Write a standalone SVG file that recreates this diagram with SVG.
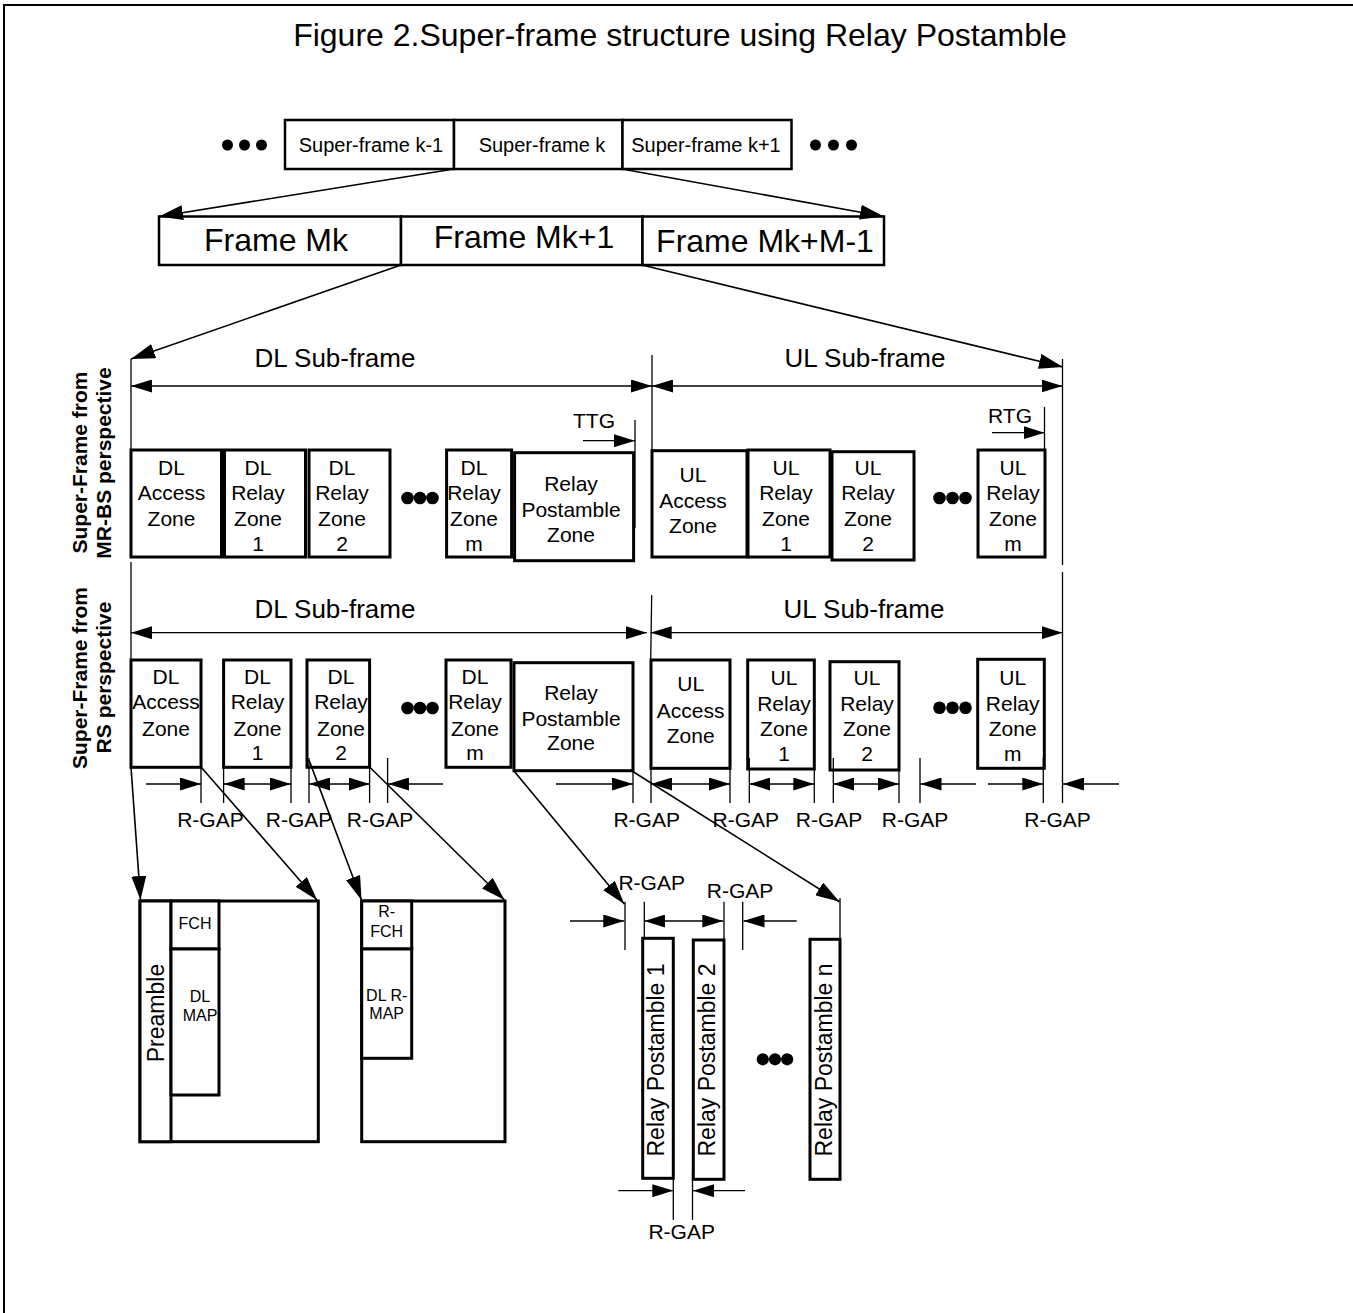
<svg xmlns="http://www.w3.org/2000/svg" width="1353" height="1313" viewBox="0 0 1353 1313">
<defs>
<style>
text{font-family:"Liberation Sans",Arial,sans-serif;fill:#000}
.t32{font-size:32px}
.t26{font-size:26px}
.t21{font-size:21px}
.t20{font-size:20px}
.t23{font-size:23px}
.t16{font-size:16px}
.b21{font-size:21px;font-weight:bold}
.m{text-anchor:middle}
.box{fill:#fff;stroke:#000;stroke-width:3}
.sbox{fill:#fff;stroke:#000;stroke-width:2.5}
.ln{fill:none;stroke:#000;stroke-width:1.3}
.cn{fill:none;stroke:#000;stroke-width:1.6}
.a1{marker-end:url(#ah)}
.a2{marker-start:url(#ah);marker-end:url(#ah)}
.aL{marker-end:url(#ahL)}
</style>
<marker id="ah" viewBox="0 0 21 13" refX="21" refY="6.5" markerWidth="21" markerHeight="13" markerUnits="userSpaceOnUse" orient="auto-start-reverse"><path d="M0,0 L21,6.5 L0,13 z" fill="#000"/></marker>
<marker id="ahL" viewBox="0 0 24 15" refX="24" refY="7.5" markerWidth="24" markerHeight="15" markerUnits="userSpaceOnUse" orient="auto"><path d="M0,0 L24,7.5 L0,15 z" fill="#000"/></marker>
</defs>
<rect x="0" y="0" width="1353" height="1313" fill="#fff"/>
<rect x="4" y="5" width="1400" height="1400" fill="none" stroke="#000" stroke-width="2"/>
<text class="t32 m" x="680" y="46">Figure 2.Super-frame structure using Relay Postamble</text>

<g id="superframes">
<circle cx="227.5" cy="145" r="5.5"/><circle cx="244.5" cy="145" r="5.5"/><circle cx="261.5" cy="145" r="5.5"/>
<g id="sf-k-1"><rect class="sbox" x="285" y="120" width="169" height="49"/><text class="t20 m" x="371" y="152">Super-frame k-1</text></g>
<g id="sf-k"><rect class="sbox" x="454" y="120" width="168.5" height="49"/><text class="t20 m" x="542" y="152">Super-frame k</text></g>
<g id="sf-k+1"><rect class="sbox" x="622.5" y="120" width="169" height="49"/><text class="t20 m" x="706" y="152">Super-frame k+1</text></g>
<circle cx="815.5" cy="145" r="5.5"/><circle cx="833.5" cy="145" r="5.5"/><circle cx="851.5" cy="145" r="5.5"/>
</g>

<g id="frames">
<g id="frame-mk"><rect class="sbox" x="159" y="216.5" width="242" height="48.5"/><text class="t32 m" x="276" y="251">Frame Mk</text></g>
<g id="frame-mk1"><rect class="sbox" x="401" y="216.5" width="241.5" height="48.5"/><text class="t32 m" x="524" y="248">Frame Mk+1</text></g>
<g id="frame-mkm"><rect class="sbox" x="642.5" y="216.5" width="241.5" height="48.5"/><text class="t32 m" x="765" y="252">Frame Mk+M-1</text></g>
</g>

<g id="side-labels">
<text class="b21 m" transform="translate(87,462.5) rotate(-90)">Super-Frame from</text>
<text class="b21 m" transform="translate(111,463) rotate(-90)">MR-BS perspective</text>
<text class="b21 m" transform="translate(87,678) rotate(-90)">Super-Frame from</text>
<text class="b21 m" transform="translate(111,677.5) rotate(-90)">RS perspective</text>
</g>

<g id="mrbs-row">
<text class="t26 m" x="335" y="367">DL Sub-frame</text>
<text class="t26 m" x="865" y="367">UL Sub-frame</text>
<text class="t21 m" x="594" y="428">TTG</text>
<text class="t21 m" x="1010" y="423">RTG</text>
<g id="m-dl-access"><rect class="box" x="131" y="450" width="90.5" height="107"/><text class="t21 m" x="171.5" y="475">DL</text><text class="t21 m" x="171.5" y="500">Access</text><text class="t21 m" x="171.5" y="526">Zone</text></g>
<g id="m-dl-relay1"><rect class="box" x="224.5" y="450" width="81" height="107"/><text class="t21 m" x="258" y="475">DL</text><text class="t21 m" x="258" y="500">Relay</text><text class="t21 m" x="258" y="526">Zone</text><text class="t21 m" x="258" y="551">1</text></g>
<g id="m-dl-relay2"><rect class="box" x="309" y="450" width="81" height="107"/><text class="t21 m" x="342" y="475">DL</text><text class="t21 m" x="342" y="500">Relay</text><text class="t21 m" x="342" y="526">Zone</text><text class="t21 m" x="342" y="551">2</text></g>
<circle cx="407.5" cy="498" r="6.3"/><circle cx="420" cy="498" r="6.3"/><circle cx="432.5" cy="498" r="6.3"/>
<g id="m-dl-relaym"><rect class="box" x="446.6" y="450" width="65" height="107"/><text class="t21 m" x="474" y="475">DL</text><text class="t21 m" x="474" y="500">Relay</text><text class="t21 m" x="474" y="526">Zone</text><text class="t21 m" x="474" y="551">m</text></g>
<g id="m-postamble"><rect class="box" x="514.6" y="452.7" width="119" height="108"/><text class="t21 m" x="571" y="491">Relay</text><text class="t21 m" x="571" y="517">Postamble</text><text class="t21 m" x="571" y="542">Zone</text></g>
<g id="m-ul-access"><rect class="box" x="652" y="450.7" width="95" height="106.3"/><text class="t21 m" x="693" y="482">UL</text><text class="t21 m" x="693" y="508">Access</text><text class="t21 m" x="693" y="533">Zone</text></g>
<g id="m-ul-relay1"><rect class="box" x="748" y="450" width="82" height="107"/><text class="t21 m" x="786" y="475">UL</text><text class="t21 m" x="786" y="500">Relay</text><text class="t21 m" x="786" y="526">Zone</text><text class="t21 m" x="786" y="551">1</text></g>
<g id="m-ul-relay2"><rect class="box" x="832" y="451.7" width="82" height="108.3"/><text class="t21 m" x="868" y="475">UL</text><text class="t21 m" x="868" y="500">Relay</text><text class="t21 m" x="868" y="526">Zone</text><text class="t21 m" x="868" y="551">2</text></g>
<circle cx="939.5" cy="498" r="6.3"/><circle cx="952.5" cy="498" r="6.3"/><circle cx="965.5" cy="498" r="6.3"/>
<g id="m-ul-relaym"><rect class="box" x="978" y="450" width="67" height="107"/><text class="t21 m" x="1013" y="475">UL</text><text class="t21 m" x="1013" y="500">Relay</text><text class="t21 m" x="1013" y="526">Zone</text><text class="t21 m" x="1013" y="551">m</text></g>
</g>

<g id="rs-row">
<text class="t26 m" x="335" y="618">DL Sub-frame</text>
<text class="t26 m" x="864" y="618">UL Sub-frame</text>
<g id="r-dl-access"><rect class="box" x="131" y="660" width="70" height="107.3"/><text class="t21 m" x="166" y="684">DL</text><text class="t21 m" x="166" y="709">Access</text><text class="t21 m" x="166" y="736">Zone</text></g>
<g id="r-dl-relay1"><rect class="box" x="223.6" y="660" width="67.4" height="107.3"/><text class="t21 m" x="257.5" y="684">DL</text><text class="t21 m" x="257.5" y="709">Relay</text><text class="t21 m" x="257.5" y="736">Zone</text><text class="t21 m" x="257.5" y="760">1</text></g>
<g id="r-dl-relay2"><rect class="box" x="307" y="660" width="62.6" height="107.3"/><text class="t21 m" x="341" y="684">DL</text><text class="t21 m" x="341" y="709">Relay</text><text class="t21 m" x="341" y="736">Zone</text><text class="t21 m" x="341" y="760">2</text></g>
<circle cx="407.5" cy="708" r="6.3"/><circle cx="420" cy="708" r="6.3"/><circle cx="432.5" cy="708" r="6.3"/>
<g id="r-dl-relaym"><rect class="box" x="446" y="660" width="65" height="107.3"/><text class="t21 m" x="475" y="684">DL</text><text class="t21 m" x="475" y="709">Relay</text><text class="t21 m" x="475" y="736">Zone</text><text class="t21 m" x="475" y="760">m</text></g>
<g id="r-postamble"><rect class="box" x="514" y="662.7" width="119" height="108"/><text class="t21 m" x="571" y="700">Relay</text><text class="t21 m" x="571" y="726">Postamble</text><text class="t21 m" x="571" y="750">Zone</text></g>
<g id="r-ul-access"><rect class="box" x="651" y="660" width="79" height="108.3"/><text class="t21 m" x="690.7" y="691">UL</text><text class="t21 m" x="690.7" y="717.7">Access</text><text class="t21 m" x="690.7" y="743.3">Zone</text></g>
<g id="r-ul-relay1"><rect class="box" x="747.7" y="660" width="66.6" height="109"/><text class="t21 m" x="784" y="685">UL</text><text class="t21 m" x="784" y="710.7">Relay</text><text class="t21 m" x="784" y="736">Zone</text><text class="t21 m" x="784" y="761">1</text></g>
<g id="r-ul-relay2"><rect class="box" x="830" y="661.7" width="69" height="108.3"/><text class="t21 m" x="867" y="685">UL</text><text class="t21 m" x="867" y="710.7">Relay</text><text class="t21 m" x="867" y="736">Zone</text><text class="t21 m" x="867" y="761">2</text></g>
<circle cx="939.5" cy="707.7" r="6.3"/><circle cx="952.5" cy="707.7" r="6.3"/><circle cx="965.5" cy="707.7" r="6.3"/>
<g id="r-ul-relaym"><rect class="box" x="977.7" y="659.3" width="66.6" height="109"/><text class="t21 m" x="1012.7" y="685">UL</text><text class="t21 m" x="1012.7" y="710.7">Relay</text><text class="t21 m" x="1012.7" y="736">Zone</text><text class="t21 m" x="1012.7" y="761">m</text></g>
<g id="rgap-labels" class="t21 m">
<text class="t21 m" x="210.4" y="827">R-GAP</text>
<text class="t21 m" x="299" y="827">R-GAP</text>
<text class="t21 m" x="380" y="827">R-GAP</text>
<text class="t21 m" x="646.7" y="827">R-GAP</text>
<text class="t21 m" x="745.8" y="827">R-GAP</text>
<text class="t21 m" x="829" y="827">R-GAP</text>
<text class="t21 m" x="915" y="827">R-GAP</text>
<text class="t21 m" x="1057.5" y="827">R-GAP</text>
</g>
</g>

<g id="preamble-frame">
<rect class="box" x="140" y="901" width="178.3" height="240.7"/>
<rect class="box" x="140" y="901" width="31" height="240.7"/>
<rect class="box" x="171" y="901" width="48" height="48"/>
<rect class="box" x="171" y="949" width="48" height="146"/>
<text class="t23 m" transform="translate(164,1013) rotate(-90)">Preamble</text>
<text class="t16 m" x="195" y="929">FCH</text>
<text class="t16 m" x="200" y="1001.7">DL</text>
<text class="t16 m" x="200" y="1020.7">MAP</text>
</g>

<g id="rfch-frame">
<rect class="box" x="361.7" y="901" width="143.3" height="240.7"/>
<rect class="box" x="361.7" y="901" width="50" height="48"/>
<rect class="box" x="361.7" y="949" width="50" height="109.3"/>
<text class="t16 m" x="386.7" y="917.3">R-</text>
<text class="t16 m" x="386.7" y="937.3">FCH</text>
<text class="t16 m" x="386.7" y="1000.7">DL R-</text>
<text class="t16 m" x="386.7" y="1019.3">MAP</text>
</g>

<g id="relay-postambles">
<g id="rp1"><rect class="box" x="642.7" y="938.3" width="30.6" height="240"/><text class="t23 m" transform="translate(664,1060) rotate(-90)">Relay Postamble 1</text></g>
<g id="rp2"><rect class="box" x="693.3" y="940" width="30.7" height="239.3"/><text class="t23 m" transform="translate(715,1060) rotate(-90)">Relay Postamble 2</text></g>
<circle cx="762.8" cy="1059.3" r="6.1"/><circle cx="775" cy="1059.3" r="6.1"/><circle cx="787.2" cy="1059.3" r="6.1"/>
<g id="rpn"><rect class="box" x="810" y="939.3" width="30" height="240"/><text class="t23 m" transform="translate(831.5,1060) rotate(-90)">Relay Postamble n</text></g>
<text class="t21 m" x="651.7" y="890">R-GAP</text>
<text class="t21 m" x="740" y="898.3">R-GAP</text>
<text class="t21 m" x="681.7" y="1239.3">R-GAP</text>
</g>

<g id="connectors">
<!-- expansion arrows -->
<line class="cn aL" x1="454" y1="169" x2="159" y2="216.5"/>
<line class="cn aL" x1="622" y1="169" x2="884" y2="216.5"/>
<line class="cn aL" x1="401" y1="265" x2="131" y2="359"/>
<line class="cn aL" x1="642" y1="265" x2="1063" y2="367"/>
<!-- MR-BS guides -->
<line class="ln" x1="131" y1="359" x2="131" y2="557"/>
<line class="ln" x1="652" y1="355" x2="652" y2="450"/>
<line class="ln" x1="1062.5" y1="359" x2="1062.5" y2="565"/>
<line class="ln a2" x1="131" y1="386" x2="652" y2="386"/>
<line class="ln a2" x1="652" y1="386" x2="1062.5" y2="386"/>
<line class="ln" x1="635" y1="420" x2="635" y2="528"/>
<line class="ln a1" x1="583" y1="440.7" x2="635" y2="440.7"/>
<line class="ln" x1="1044.5" y1="407" x2="1044.5" y2="450"/>
<line class="ln a1" x1="992" y1="432.7" x2="1044.5" y2="432.7"/>
<!-- RS guides -->
<line class="ln" x1="131" y1="562" x2="131" y2="660"/>
<line class="ln" x1="651.7" y1="595" x2="650.7" y2="660"/>
<line class="ln" x1="1062.5" y1="572" x2="1062.5" y2="803"/>
<line class="ln a2" x1="131" y1="632.7" x2="647" y2="632.7"/>
<line class="ln a2" x1="650.7" y1="632.7" x2="1062.5" y2="632.7"/>
<!-- R-GAP ticks -->
<path class="ln" d="M201,767V803 M223.6,767V803 M291,767V803 M309,758V803 M369.6,767V803 M387.6,758V803 M633,770V803 M651,768V803 M730,768V803 M749.3,758V803 M814.3,769V803 M833.3,758V803 M899,770V803 M920,758V803 M1043.3,758V803"/>
<!-- R-GAP arrows -->
<line class="ln a1" x1="146" y1="784" x2="201" y2="784"/>
<line class="ln a2" x1="223.6" y1="784" x2="291" y2="784"/>
<line class="ln a2" x1="309" y1="784" x2="369.6" y2="784"/>
<line class="ln a1" x1="443" y1="784" x2="388" y2="784"/>
<line class="ln a1" x1="556" y1="784" x2="633" y2="784"/>
<line class="ln a2" x1="651" y1="784" x2="730" y2="784"/>
<line class="ln a2" x1="749.3" y1="784" x2="814.3" y2="784"/>
<line class="ln a2" x1="833.3" y1="784" x2="899" y2="784"/>
<line class="ln a1" x1="976" y1="784" x2="920.5" y2="784"/>
<line class="ln a1" x1="988" y1="784" x2="1043.3" y2="784"/>
<line class="ln a1" x1="1119" y1="784" x2="1063" y2="784"/>
<!-- zoom-in connectors -->
<line class="cn aL" x1="131" y1="767" x2="140.5" y2="900"/>
<line class="cn aL" x1="201" y1="767" x2="317" y2="900"/>
<line class="cn aL" x1="309" y1="760" x2="361.5" y2="900"/>
<line class="cn aL" x1="369.6" y1="767" x2="504.5" y2="900"/>
<line class="cn aL" x1="514" y1="771" x2="624.3" y2="904"/>
<line class="cn aL" x1="632" y1="771" x2="839.5" y2="901.7"/>
<!-- postamble R-GAP -->
<path class="ln" d="M625,901.7V950 M644.3,901.7V938 M724,901.7V940 M742.7,901.7V950 M840,898V939 M673.3,1178V1220 M692.5,1171.7V1220"/>
<line class="ln a1" x1="570" y1="921" x2="624.3" y2="921"/>
<line class="ln a2" x1="644.3" y1="921" x2="723.3" y2="921"/>
<line class="ln a1" x1="796.7" y1="921" x2="743.5" y2="921"/>
<line class="ln a1" x1="618.3" y1="1190.7" x2="673.3" y2="1190.7"/>
<line class="ln a1" x1="745" y1="1190.7" x2="693" y2="1190.7"/>
</g>
</svg>
